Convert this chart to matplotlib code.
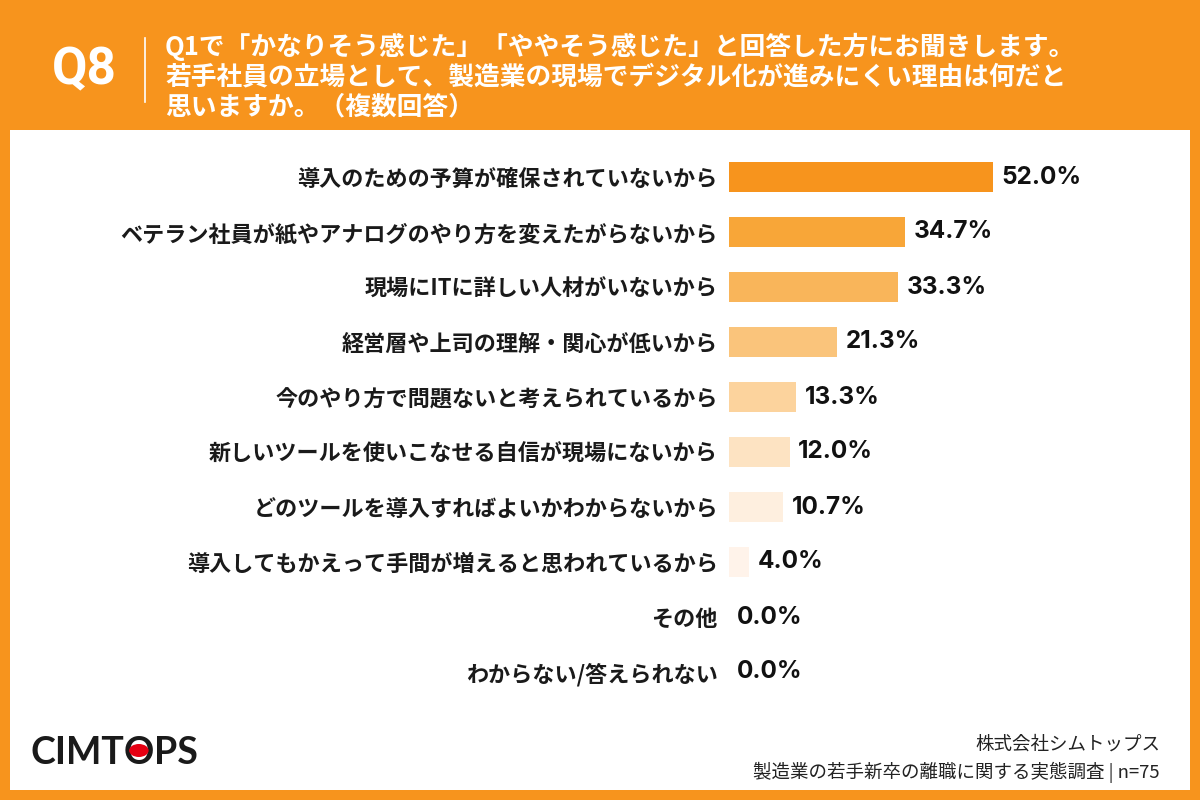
import matplotlib
matplotlib.use("Agg")
import matplotlib.pyplot as plt
from matplotlib.patches import Rectangle, Circle

plt.rcParams['font.family'] = ['Noto Sans CJK JP', 'DejaVu Sans']

categories = [
    "導入のための予算が確保されていないから",
    "ベテラン社員が紙やアナログのやり方を変えたがらないから",
    "現場にITに詳しい人材がいないから",
    "経営層や上司の理解・関心が低いから",
    "今のやり方で問題ないと考えられているから",
    "新しいツールを使いこなせる自信が現場にないから",
    "どのツールを導入すればよいかわからないから",
    "導入してもかえって手間が増えると思われているから",
    "その他",
    "わからない/答えられない",
]
values = [52.0, 34.7, 33.3, 21.3, 13.3, 12.0, 10.7, 4.0, 0.0, 0.0]
bar_colors = ["#F7941D", "#F8A638", "#F9B55A", "#FAC47B", "#FCD39D",
              "#FDE3C2", "#FEEFDF", "#FFF3EA", "#FFF6EE", "#FFF6EE"]

title_lines = [
    "Q1で「かなりそう感じた」「ややそう感じた」と回答した方にお聞きします。",
    "若手社員の立場として、製造業の現場でデジタル化が進みにくい理由は何だと",
    "思いますか。（複数回答）",
]
footer_lines = ["株式会社シムトップス", "製造業の若手新卒の離職に関する実態調査 | n=75"]

ORANGE = "#F7941D"
W, H = 1200, 800
fig = plt.figure(figsize=(12, 8), dpi=100, facecolor=ORANGE)

def fx(x):
    return x / W

def fy(y):
    return 1 - y / H

# white panel
fig.patches.append(Rectangle((fx(10), fy(790)), fx(1180), 660 / H,
                             transform=fig.transFigure, facecolor="white",
                             edgecolor="none", zorder=-5))

# header
fig.text(fx(52), fy(70), "Q8", color="white", fontsize=37, fontweight="bold",
         ha="left", va="center", family=["Roboto", "DejaVu Sans"])
fig.add_artist(plt.Line2D([fx(145), fx(145)], [fy(38), fy(102)],
                          transform=fig.transFigure, color="white", lw=1.2))
for i, line in enumerate(title_lines):
    fig.text(fx(165), fy(47 + 30 * i), line, color="white", fontsize=18.5,
             fontweight="bold", ha="left", va="center")

# bar axes
ax = fig.add_axes([fx(729), 100.5 / H, 406 / W, 550 / H], zorder=3)
ax.set_xlim(0, 80)
ax.set_ylim(len(values) - 0.5, -0.5)
ypos = list(range(len(values)))
ax.barh(ypos, values, height=0.55, color=bar_colors, edgecolor="none")
ax.set_yticks(ypos)
ax.set_yticklabels(categories, fontsize=15.9, fontweight="bold", color="#1a1a1a")
ax.tick_params(axis="y", length=0, pad=8)
ax.set_xticks([])
for s in ax.spines.values():
    s.set_visible(False)
ax.patch.set_alpha(0)
for y, v in zip(ypos, values):
    ax.annotate(f"{v:.1f}%", (v, y), xytext=(6.0, 0), textcoords="offset points",
                ha="left", va="center", fontsize=17.5, fontweight="bold",
                color="#111111", family=["Inter", "DejaVu Sans"])

# footer
fig.text(fx(1160), fy(745), footer_lines[0], fontsize=13.3, ha="right", va="center", color="#222222")
fig.text(fx(1160), fy(772), footer_lines[1], fontsize=13.3, ha="right", va="center", color="#222222")

# logo
fig.canvas.draw()
r = fig.canvas.get_renderer()
logo_kw = dict(fontsize=27, fontweight="bold", va="baseline", ha="left",
               color="#1a1a1a", family=["Lato", "DejaVu Sans"])
base = fy(764)
t1 = fig.text(fx(30), base, "CIMT", **logo_kw)
bb1 = t1.get_window_extent(r)
t2 = fig.text(bb1.x1 / W, base, "O", **logo_kw)
bb2 = t2.get_window_extent(r)
t3 = fig.text(bb2.x1 / W, base, "PS", **logo_kw)
cx = (bb2.x0 + bb2.x1) / 2
cap = 27 * 100 / 72 * 0.72
cy = base * H + cap / 2
fig.patches.append(Circle((cx / W, cy / H), 6.5 / H, transform=fig.transFigure,
                          facecolor="#E60012", edgecolor="none", zorder=5))

fig.savefig("out.png", dpi=100, facecolor=ORANGE)
